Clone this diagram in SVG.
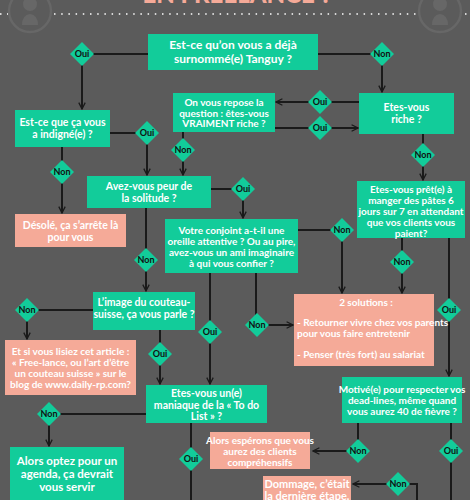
<svg xmlns="http://www.w3.org/2000/svg" width="470" height="500" viewBox="0 0 470 500">
<style>
.g{fill:#12cc9a}
.s{fill:#f5aa98}
.t{font-family:Lato,"Open Sans","DejaVu Sans",sans-serif;font-weight:bold;fill:#fff;text-anchor:middle;font-size:10.5px}
.big{font-size:12px}
.sm{font-size:10px}
.st{text-anchor:start}
.lbl{font-family:Lato,"DejaVu Sans",sans-serif;font-weight:bold;fill:#111;text-anchor:middle;font-size:9px}
.c{fill:none;stroke:#1a1a1a;stroke-width:2}
.d{fill:#12cc9a}
.ic{fill:none;stroke:#676767;stroke-width:2.5}
.icf{fill:#676767}
</style>
<defs>
<marker id="a" viewBox="0 0 10 10" refX="9" refY="5" markerWidth="4" markerHeight="4" orient="auto" markerUnits="strokeWidth">
<path d="M1,1 L9,5 L1,9" fill="none" stroke="#1a1a1a" stroke-width="1.6"/>
</marker>
<path id="dia" d="M0,-12 L12,0 L0,12 L-12,0Z"/>
</defs>
<rect width="470" height="500" fill="#5b5b5b"/>
<g id="header">
<text x="237" y="3" font-family="Lato,sans-serif" font-weight="900" font-size="24" fill="#f5aa98" text-anchor="middle">EN FREELANCE ?</text>
<line x1="0" y1="14" x2="8" y2="14" stroke="#fff" stroke-width="1.5" stroke-dasharray="1.5 5.5"/>
<line x1="54" y1="14" x2="418" y2="14" stroke="#fff" stroke-width="1.5" stroke-dasharray="1.5 5.7"/>
<line x1="465" y1="14" x2="470" y2="14" stroke="#fff" stroke-width="1.5" stroke-dasharray="1.5 5.5"/>
<circle class="ic" cx="30" cy="11" r="21"/>
<circle class="icf" cx="30" cy="4" r="7"/>
<path class="icf" d="M22,25 Q22,15 30,14 Q38,15 38,25Z"/>
<circle class="ic" cx="440" cy="11" r="21"/>
<circle class="icf" cx="440" cy="4" r="7"/>
<path class="icf" d="M432,25 Q432,15 440,14 Q448,15 448,25Z"/>
</g>
<g id="connectors">
<path class="c" d="M148,54 H82 V109" marker-end="url(#a)"/>
<path class="c" d="M318,54 H382 V92" marker-end="url(#a)"/>
<path class="c" d="M359,102 H276" marker-end="url(#a)"/>
<path class="c" d="M275,128 H358" marker-end="url(#a)"/>
<path class="c" d="M183,132 V175" marker-end="url(#a)"/>
<path class="c" d="M110,133 H147 V175" marker-end="url(#a)"/>
<path class="c" d="M62,147 V213" marker-end="url(#a)"/>
<path class="c" d="M211,189 H243 V218" marker-end="url(#a)"/>
<path class="c" d="M298,230 H342 V293" marker-end="url(#a)"/>
<path class="c" d="M146,208 V291" marker-end="url(#a)"/>
<path class="c" d="M93,310 H27 V339" marker-end="url(#a)"/>
<path class="c" d="M160,330 V384" marker-end="url(#a)"/>
<path class="c" d="M210,273 V384" marker-end="url(#a)"/>
<path class="c" d="M256,273 V325 H293" marker-end="url(#a)"/>
<path class="c" d="M423,134 V180" marker-end="url(#a)"/>
<path class="c" d="M402,238 V293" marker-end="url(#a)"/>
<path class="c" d="M449,238 V376" marker-end="url(#a)"/>
<path class="c" d="M146,414 H49 V446" marker-end="url(#a)"/>
<path class="c" d="M191,423 V500"/>
<path class="c" d="M358,423 V451 H313" marker-end="url(#a)"/>
<path class="c" d="M451,423 V500"/>
<path class="c" d="M417,500 V484 H353" marker-end="url(#a)"/>
<g id="labels">
<use href="#dia" class="d" x="82" y="54"/><text class="lbl" x="82" y="57">Oui</text>
<use href="#dia" class="d" x="382" y="54"/><text class="lbl" x="382" y="57">Non</text>
<use href="#dia" class="d" x="320" y="102"/><text class="lbl" x="320" y="105">Oui</text>
<use href="#dia" class="d" x="320" y="128"/><text class="lbl" x="320" y="131">Oui</text>
<use href="#dia" class="d" x="183" y="150"/><text class="lbl" x="183" y="153">Non</text>
<use href="#dia" class="d" x="147" y="133"/><text class="lbl" x="147" y="136">Oui</text>
<use href="#dia" class="d" x="62" y="172"/><text class="lbl" x="62" y="175">Non</text>
<use href="#dia" class="d" x="243" y="189"/><text class="lbl" x="243" y="192">Oui</text>
<use href="#dia" class="d" x="342" y="230"/><text class="lbl" x="342" y="233">Non</text>
<use href="#dia" class="d" x="146" y="260"/><text class="lbl" x="146" y="263">Non</text>
<use href="#dia" class="d" x="27" y="310"/><text class="lbl" x="27" y="313">Non</text>
<use href="#dia" class="d" x="160" y="354"/><text class="lbl" x="160" y="357">Oui</text>
<use href="#dia" class="d" x="210" y="332"/><text class="lbl" x="210" y="335">Oui</text>
<use href="#dia" class="d" x="257" y="325"/><text class="lbl" x="257" y="328">Non</text>
<use href="#dia" class="d" x="423" y="155"/><text class="lbl" x="423" y="158">Non</text>
<use href="#dia" class="d" x="402" y="262"/><text class="lbl" x="402" y="265">Non</text>
<use href="#dia" class="d" x="449" y="310"/><text class="lbl" x="449" y="313">Oui</text>
<use href="#dia" class="d" x="49" y="414"/><text class="lbl" x="49" y="417">Non</text>
<use href="#dia" class="d" x="191" y="459"/><text class="lbl" x="191" y="462">Oui</text>
<use href="#dia" class="d" x="358" y="451"/><text class="lbl" x="358" y="454">Non</text>
<use href="#dia" class="d" x="451" y="451"/><text class="lbl" x="451" y="454">Oui</text>
<use href="#dia" class="d" x="398" y="484"/><text class="lbl" x="398" y="487">Non</text>
</g>
</g>
<g id="n-tanguy"><rect class="g" x="148" y="34" width="170" height="36"/>
<text class="t big" x="233" y="49">Est-ce qu’on vous a déjà</text><text class="t big" x="233" y="63">surnommé(e) Tanguy ?</text></g>
<g id="n-indigne"><rect class="g" x="15" y="110" width="95" height="37"/>
<text class="t" x="62.5" y="126">Est-ce que ça vous</text><text class="t" x="62.5" y="138">a indigné(e) ?</text></g>
<g id="n-repose"><rect class="g" x="173" y="93" width="102" height="39"/>
<text class="t sm" x="224" y="106">On vous repose la</text><text class="t sm" x="224" y="116.5">question : êtes-vous</text><text class="t sm" x="224" y="127">VRAIMENT riche ?</text></g>
<g id="n-riche"><rect class="g" x="359" y="93" width="95" height="41"/>
<text class="t" x="406.5" y="111">Etes-vous</text><text class="t" x="406.5" y="123">riche ?</text></g>
<g id="n-solitude"><rect class="g" x="87" y="176" width="124" height="32"/>
<text class="t" x="149" y="190">Avez-vous peur de</text><text class="t" x="149" y="202">la solitude ?</text></g>
<g id="n-desole"><rect class="s" x="15" y="214" width="111" height="33"/>
<text class="t" x="70.5" y="229">Désolé, ça s’arrête là</text><text class="t" x="70.5" y="241">pour vous</text></g>
<g id="n-conjoint"><rect class="g" x="165" y="219" width="133" height="54"/>
<text class="t sm" x="231.5" y="234">Votre conjoint a-t-il une</text><text class="t sm" x="231.5" y="245">oreille attentive ? Ou au pire,</text><text class="t sm" x="231.5" y="256">avez-vous un ami imaginaire</text><text class="t sm" x="231.5" y="267">à qui vous confier ?</text></g>
<g id="n-solutions"><rect class="s" x="294" y="294" width="140" height="72"/>
<text class="t sm" x="366" y="306">2 solutions :</text>
<text class="t sm st" x="297" y="326">- Retourner vivre chez vos parents</text>
<text class="t sm st" x="297" y="337">pour vous faire entretenir</text>
<text class="t sm st" x="297" y="358">- Penser (très fort) au salariat</text></g>
<g id="n-couteau"><rect class="g" x="93" y="292" width="102" height="38"/>
<text class="t" x="144" y="306">L’image du couteau-</text><text class="t" x="144" y="318">suisse, ça vous parle ?</text></g>
<g id="n-pret"><rect class="g" x="357" y="181" width="108" height="57"/>
<text class="t sm" x="411" y="193">Etes-vous prêt(e) à</text><text class="t sm" x="411" y="204">manger des pâtes 6</text><text class="t sm" x="411" y="215">jours sur 7 en attendant</text><text class="t sm" x="411" y="226">que vos clients vous</text><text class="t sm" x="411" y="237">paient?</text></g>
<g id="n-article"><rect class="s" x="5" y="340" width="131" height="55"/>
<text class="t sm" x="70.5" y="355">Et si vous lisiez cet article :</text><text class="t sm" x="70.5" y="366">« Free-lance, ou l’art d’être</text><text class="t sm" x="70.5" y="377">un couteau suisse » sur le</text><text class="t sm" x="70.5" y="388">blog de www.daily-rp.com?</text></g>
<g id="n-todo"><rect class="g" x="146" y="385" width="121" height="38"/>
<text class="t" x="206.5" y="397">Etes-vous un(e)</text><text class="t" x="206.5" y="408.5">maniaque de la « To do</text><text class="t" x="206.5" y="420">List » ?</text></g>
<g id="n-motive"><rect class="g" x="342" y="377" width="120" height="46"/>
<text class="t sm" x="402" y="393">Motivé(e) pour respecter vos</text><text class="t sm" x="402" y="404">dead-lines, même quand</text><text class="t sm" x="402" y="415">vous aurez 40 de fièvre ?</text></g>
<g id="n-esperons"><rect class="s" x="210" y="432" width="100" height="37"/>
<text class="t sm" x="260" y="444">Alors espérons que vous</text><text class="t sm" x="260" y="455">aurez des clients</text><text class="t sm" x="260" y="466">compréhensifs</text></g>
<g id="n-agenda"><rect class="g" x="10" y="447" width="114" height="60"/>
<text class="t" x="67" y="465" style="font-size:11.5px">Alors optez pour un</text><text class="t" x="67" y="478" style="font-size:11.5px">agenda, ça devrait</text><text class="t" x="67" y="491" style="font-size:11.5px">vous servir</text></g>
<g id="n-dommage"><rect class="s" x="263" y="476" width="88" height="40"/>
<text class="t" x="307" y="488" style="font-size:11px">Dommage, c’était</text><text class="t" x="307" y="500" style="font-size:11px">la dernière étape.</text></g>
</svg>
